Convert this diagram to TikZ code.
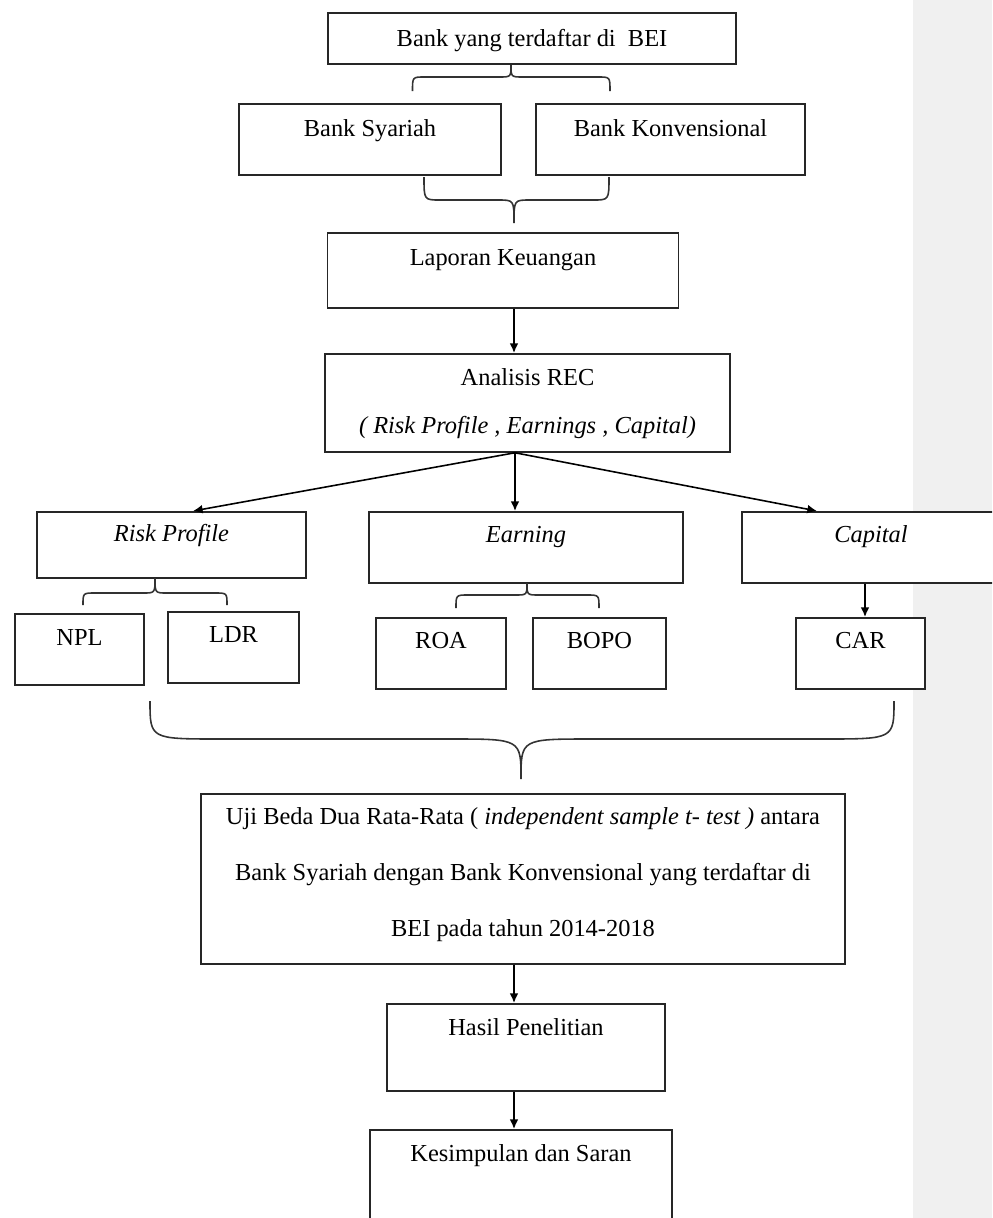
\documentclass[tikz,border=0pt]{standalone}
\usepackage{fontspec}
\setmainfont{Liberation Serif}
\usetikzlibrary{arrows.meta}
\newlength\pxl
\setlength\pxl{0.02cm}
\definecolor{band}{HTML}{F0F0F0}
% brace: left x, right x, arm y, bar y, tip x, tip y, corner
\newcommand\curlybrace[7]{\draw[brace] (#1,#3) .. controls (#1,#4) .. (#1+#7,#4) -- (#5-#7,#4) .. controls (#5,#4) .. (#5,#6) .. controls (#5,#4) .. (#5+#7,#4) -- (#2-#7,#4) .. controls (#2,#4) .. (#2,#3);}
\tikzset{
  box/.style={draw=black!85, line width=1pt, fill=white, inner sep=0pt, anchor=north, align=center, font=\fontsize{13.9}{16}\selectfont},
  dims/.style n args={3}{minimum width=#1\pxl, text height=#2\pxl, text depth=#3\pxl},
  arr/.style={-{Latex[length=5.5pt,width=5pt]}, line width=0.9pt},
  brace/.style={line width=0.9pt, draw=black!80},
}
\begin{document}
\begin{tikzpicture}[x=0.02cm, y=-0.02cm]
			\useasboundingbox (0,0) rectangle (992,1218);
			\clip (0,0) rectangle (992,1218);
			\fill[band] (913,0) rectangle (992,1218);
			
			%%%%% boxes %%%%%
			\node[box, dims={408}{34}{17}] (bei) at (532,12) {Bank yang terdaftar di~ BEI};
			\node[box, dims={262}{33}{38}] (syariah) at (370,103) {Bank Syariah};
			\node[box, dims={269}{33}{38}] (konv) at (670.5,103) {Bank Konvensional};
			\node[box, dims={351}{33}{42}] (lapor) at (503,232) {Laporan Keuangan};
			\node[box, dims={405}{80}{18}, font=\fontsize{13.9}{27.8}\selectfont] (rec) at (527.5,353)
				{Analisis REC\\\textit{( Risk Profile , Earnings , Capital)}};
			
			\node[box, dims={269}{30}{36}] (risk) at (171.5,511) {\textit{Risk Profile}};
			\node[box, dims={314}{31}{40}] (earn) at (526,511) {\textit{Earning}};
			\node[box, dims={258}{31}{40}] (cap) at (871,511) {\textit{Capital}};
			
			\node[box, dims={129}{32}{39}] (npl) at (79.5,613) {NPL};
			\node[box, dims={131}{31}{40}] (ldr) at (233.5,611) {LDR};
			\node[box, dims={130}{31}{40}] (roa) at (441,617) {ROA};
			\node[box, dims={133}{31}{40}] (bopo) at (599.5,617) {BOPO};
			\node[box, dims={129}{31}{40}] (car) at (860.5,617) {CAR};
			
			\node[box, dims={644}{143}{27}, font=\fontsize{13.9}{32}\selectfont] (uji) at (523,793)
				{Uji Beda Dua Rata-Rata ( \textit{independent sample t- test )} antara\\
				 Bank Syariah dengan Bank Konvensional yang terdaftar di\\
				 BEI pada tahun 2014-2018};
			\node[box, dims={278}{32}{55}] (hasil) at (526,1003) {Hasil Penelitian};
			\node[box, dims={302}{32}{90}] (kesim) at (521,1129) {Kesimpulan dan Saran};
			
			%%%%% braces %%%%%
			\curlybrace{412.5}{610}{91}{77}{511}{65}{12}
			\curlybrace{424}{609}{177}{200}{514}{223}{16}
			\curlybrace{83}{227}{605}{593}{155}{578}{12}
			\curlybrace{456}{599}{608}{595}{527}{583}{12}
			\curlybrace{150}{894}{701}{739}{521}{779}{70}
			
			%%%%% arrows %%%%%
			\draw[arr] ([xshift=0.22cm]lapor.south) -- ([xshift=-0.27cm]rec.north);
			\coordinate (split) at ([xshift=-0.25cm]rec.south);
			\draw[arr] (split) -- ([xshift=0.43cm]risk.north);
			\draw[arr] (split) -- ([xshift=-0.22cm]earn.north);
			\draw[arr] (split) -- ([xshift=-1.08cm]cap.north);
			\draw[arr] ([xshift=-0.12cm]cap.south) -- ([xshift=0.09cm]car.north);
			\draw[arr] ([xshift=-0.18cm]uji.south) -- ([xshift=-0.24cm]hasil.north);
			\draw[arr] ([xshift=-0.24cm]hasil.south) -- ([xshift=-0.14cm]kesim.north);
\end{tikzpicture}
\end{document}
